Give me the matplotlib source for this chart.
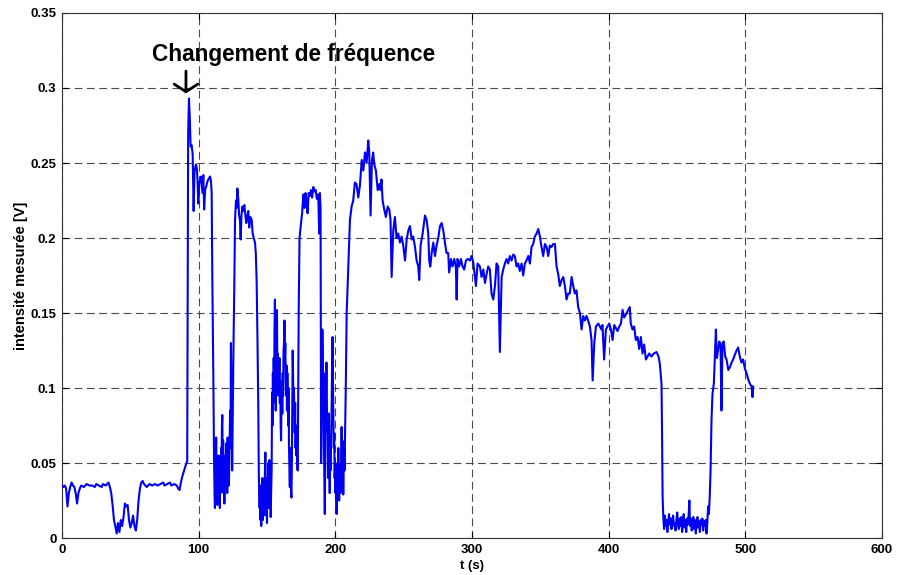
import matplotlib
matplotlib.use("Agg")
import matplotlib.pyplot as plt
from matplotlib.ticker import FixedLocator, FuncFormatter

plt.rcParams['font.family'] = ['Liberation Sans', 'DejaVu Sans']

# Measured intensity (V) against time (s), one list of (t, V) samples per phase
before_change = [
    (0, 0.035), (1, 0.034), (2, 0.035), (3, 0.033), (4, 0.021), (5, 0.030), (6, 0.034), (7, 0.037),
    (8, 0.035), (9, 0.034), (10, 0.030), (11, 0.023), (12, 0.030), (13, 0.033), (14, 0.035),
    (16, 0.034), (18, 0.036), (20, 0.035), (22, 0.035), (24, 0.034), (25, 0.036), (27, 0.035),
    (29, 0.034), (30, 0.036), (32, 0.035), (34, 0.037), (35, 0.034), (36, 0.030), (37, 0.022),
    (38, 0.012), (39, 0.008), (40, 0.003), (41, 0.010), (42, 0.004), (43, 0.012), (44, 0.008),
    (45, 0.014), (46, 0.023), (47, 0.021), (48, 0.022), (49, 0.012), (50, 0.007), (51, 0.010),
    (52, 0.015), (53, 0.008), (54, 0.005), (55, 0.012), (56, 0.025), (57, 0.033), (58, 0.037),
    (59, 0.038), (60, 0.036), (61, 0.035), (62, 0.034), (63, 0.035), (64, 0.036), (66, 0.035),
    (68, 0.036), (70, 0.035), (72, 0.036), (74, 0.037), (75, 0.035), (77, 0.036), (79, 0.037),
    (80, 0.035), (82, 0.036), (84, 0.035), (85, 0.033), (86, 0.032), (87, 0.037), (88, 0.041),
    (89, 0.044), (90, 0.047), (91, 0.050), (91.6, 0.051),
]

switching = [
    (92.3, 0.270), (92.9, 0.293), (93.5, 0.280), (94.1, 0.261), (94.8, 0.262), (95.6, 0.256),
    (96.3, 0.218), (97, 0.245), (98, 0.249), (98.6, 0.247), (99.2, 0.238), (99.7, 0.223),
    (100.4, 0.236), (101.1, 0.239), (101.7, 0.241), (102.3, 0.235), (102.8, 0.230), (103.4, 0.242),
    (104, 0.219), (104.7, 0.232), (105.4, 0.234), (106.2, 0.237), (107, 0.239), (107.7, 0.240),
    (108.3, 0.241), (109, 0.238), (109.5, 0.230), (110, 0.172), (110.7, 0.110),
    (111.2, 0.057), (111.6, 0.030), (111.9, 0.020), (112.2, 0.050), (112.5, 0.040), (112.8, 0.067),
    (113.1, 0.030), (113.4, 0.045), (113.7, 0.022), (114, 0.040), (114.3, 0.030), (114.6, 0.055),
    (114.9, 0.035), (115.2, 0.050), (115.5, 0.020), (115.8, 0.045), (116.1, 0.030), (116.4, 0.060),
    (116.7, 0.040), (117, 0.075), (117.3, 0.082), (117.6, 0.050), (117.9, 0.065), (118.2, 0.030),
    (118.5, 0.050), (118.8, 0.023), (119.1, 0.040), (119.4, 0.055), (119.7, 0.035), (120, 0.063),
    (120.3, 0.040), (120.6, 0.050), (120.9, 0.030), (121.2, 0.067), (121.5, 0.045), (121.8, 0.060),
    (122.1, 0.035), (122.4, 0.050), (122.7, 0.070), (123, 0.085), (123.3, 0.060), (123.6, 0.130),
    (123.9, 0.100), (124.2, 0.080), (124.5, 0.045), (124.8, 0.070), (125.1, 0.100), (125.5, 0.130),
    (126, 0.163), (126.6, 0.212), (127.3, 0.225), (127.8, 0.220), (128.3, 0.233), (129, 0.226),
    (129.6, 0.215), (130.2, 0.212), (130.7, 0.199), (131.3, 0.215), (132, 0.221), (132.7, 0.218),
    (133.4, 0.222), (134.2, 0.215), (134.8, 0.210), (135.5, 0.214), (136.3, 0.218), (137, 0.207),
    (137.8, 0.214), (138.8, 0.212), (139.5, 0.203), (140.3, 0.200), (141.2, 0.197), (141.8, 0.190),
    (142.4, 0.172), (143, 0.134), (143.6, 0.090), (144, 0.043),
    (144.3, 0.030), (144.6, 0.020), (144.9, 0.035), (145.2, 0.012), (145.5, 0.025), (145.8, 0.008),
    (146.1, 0.030), (146.4, 0.018), (146.7, 0.040), (147, 0.012), (147.3, 0.028), (147.6, 0.015),
    (147.9, 0.035), (148.2, 0.020), (148.5, 0.045), (148.8, 0.057), (149.1, 0.030), (149.4, 0.015),
    (149.7, 0.035), (150, 0.010), (150.3, 0.040), (150.6, 0.022), (150.9, 0.050), (151.2, 0.020),
    (151.5, 0.035), (151.8, 0.052), (152.1, 0.025), (152.4, 0.040), (152.7, 0.014), (153, 0.030),
    (153.4, 0.045),
    (153.7, 0.097), (154, 0.075), (154.3, 0.110), (154.6, 0.090), (154.9, 0.120), (155.2, 0.095),
    (155.5, 0.140), (155.8, 0.159), (156.1, 0.110), (156.4, 0.085), (156.7, 0.120), (157, 0.135),
    (157.3, 0.152), (157.6, 0.110), (157.9, 0.123), (158.2, 0.095), (158.5, 0.114), (158.8, 0.100),
    (159.1, 0.120), (159.4, 0.090), (159.7, 0.105), (160, 0.075), (160.3, 0.065), (160.6, 0.090),
    (160.9, 0.100), (161.2, 0.083), (161.5, 0.110), (161.8, 0.095), (162.1, 0.125), (162.5, 0.130),
    (162.8, 0.145), (163.1, 0.120), (163.4, 0.130), (163.7, 0.105), (164, 0.095), (164.3, 0.115),
    (164.6, 0.085), (164.9, 0.110), (165.2, 0.090), (165.5, 0.075), (165.8, 0.100), (166.1, 0.060),
    (166.4, 0.045), (166.7, 0.034), (167, 0.060), (167.3, 0.045), (167.6, 0.030), (167.9, 0.027),
    (168.2, 0.050), (168.5, 0.090), (168.8, 0.125), (169.1, 0.105), (169.4, 0.090), (169.7, 0.100),
    (170, 0.083), (170.3, 0.070), (170.6, 0.090), (170.9, 0.060), (171.2, 0.075), (171.5, 0.055),
    (171.8, 0.065), (172.1, 0.047), (172.5, 0.045),
    (173.2, 0.152), (173.8, 0.200), (174.9, 0.210), (175.7, 0.2165), (176.6, 0.229), (177.4, 0.220),
    (178.2, 0.230), (178.9, 0.225), (179.7, 0.2165), (180.5, 0.230), (181.3, 0.228), (182.2, 0.232),
    (183, 0.227), (183.9, 0.234), (184.7, 0.231), (185.6, 0.232), (186.5, 0.226), (187.5, 0.229),
    (188.2, 0.203), (188.7, 0.230), (189.2, 0.220),
    (189.6, 0.050), (189.9, 0.070), (190.2, 0.100), (190.5, 0.139), (190.8, 0.120), (191.1, 0.090),
    (191.4, 0.110), (191.7, 0.060), (192, 0.040), (192.3, 0.016), (192.6, 0.050), (192.9, 0.080),
    (193.2, 0.100), (193.5, 0.117), (193.8, 0.090), (194.1, 0.070), (194.4, 0.080), (194.7, 0.040),
    (195, 0.060), (195.3, 0.083), (195.6, 0.050), (195.9, 0.030), (196.2, 0.060), (196.5, 0.045),
    (196.8, 0.060), (197.1, 0.074), (197.4, 0.100), (197.7, 0.120), (198, 0.134), (198.3, 0.100),
    (198.6, 0.080), (198.9, 0.060), (199.2, 0.070), (199.5, 0.040), (199.8, 0.050), (200.1, 0.030),
    (200.4, 0.045), (200.7, 0.025), (201, 0.016), (201.3, 0.040), (201.6, 0.050), (201.9, 0.035),
    (202.2, 0.060), (202.5, 0.040), (202.8, 0.025), (203.1, 0.045), (203.4, 0.035), (203.7, 0.050),
    (204, 0.030), (204.3, 0.055), (204.6, 0.074), (204.9, 0.050), (205.2, 0.065), (205.5, 0.045),
    (205.8, 0.029), (206.1, 0.045), (206.4, 0.060), (206.7, 0.045), (207, 0.062), (207.3, 0.080),
    (207.6, 0.097), (207.9, 0.120), (208.3, 0.150),
]

decay = [
    (208.8, 0.163), (209.5, 0.181), (210.7, 0.212), (211.9, 0.221), (213.1, 0.225), (214.3, 0.237),
    (215.5, 0.236), (216.8, 0.227), (218, 0.235), (219.3, 0.252), (220.5, 0.245), (221.7, 0.257),
    (222.9, 0.250), (224.1, 0.265), (224.8, 0.258), (225.8, 0.215), (226.8, 0.252), (227.7, 0.257),
    (228.5, 0.249), (229.7, 0.245), (231, 0.232), (232.2, 0.236), (233.1, 0.232), (233.8, 0.239),
    (234.6, 0.225), (235.8, 0.219), (237, 0.214), (238.3, 0.221), (239.5, 0.219), (240.4, 0.212),
    (241.2, 0.174), (242.4, 0.205), (243.6, 0.214), (244.8, 0.200), (246, 0.203), (247.3, 0.197),
    (248.5, 0.201), (249.7, 0.195), (251, 0.185), (252.2, 0.199), (253.4, 0.205), (254.6, 0.208),
    (255.9, 0.199), (257, 0.201), (258.3, 0.194), (259.5, 0.185), (260.7, 0.181), (261.4, 0.172),
    (262.4, 0.195), (263.9, 0.203), (265.6, 0.215), (266.8, 0.212), (268, 0.203), (268.7, 0.185),
    (269.5, 0.181), (270.5, 0.190), (271.7, 0.197), (272.9, 0.188), (274.1, 0.195), (275.3, 0.200),
    (276.6, 0.208), (277.8, 0.210), (279, 0.205), (280.2, 0.197), (281.4, 0.190), (282.6, 0.190),
    (283.3, 0.177), (284.6, 0.186), (285.8, 0.181), (287, 0.186), (288.2, 0.181), (288.8, 0.159),
    (289.4, 0.186), (290.6, 0.181), (291.9, 0.186), (293.1, 0.181), (294.3, 0.179), (295.6, 0.185),
    (296.8, 0.186), (298.5, 0.185), (299.7, 0.188), (300.9, 0.184), (302.9, 0.168), (304.1, 0.183),
    (305.8, 0.181), (307, 0.174), (308.3, 0.179), (309.5, 0.170), (310.7, 0.176), (311.9, 0.181),
    (313.1, 0.179), (314.3, 0.163), (315.6, 0.159), (316.8, 0.168), (318, 0.183), (319.2, 0.181),
    (320.4, 0.124), (321.7, 0.174), (322.9, 0.179), (324.1, 0.183), (325.3, 0.186), (326.5, 0.183),
    (327.7, 0.188), (329, 0.185), (330.2, 0.189), (331.4, 0.188), (332.6, 0.181), (333.8, 0.183),
    (335, 0.178), (336.3, 0.183), (337.5, 0.175), (338.7, 0.183), (339.9, 0.185), (341.2, 0.188),
    (342.4, 0.183), (343.6, 0.194), (344.8, 0.196), (346, 0.201), (347.3, 0.203), (348.5, 0.206),
    (349.7, 0.201), (350.9, 0.194), (352.1, 0.188), (353.4, 0.196), (354.6, 0.194), (355.8, 0.188),
    (357, 0.195), (358.2, 0.194), (359.5, 0.196), (360.7, 0.196), (361.9, 0.181), (363.1, 0.176),
    (364.3, 0.168), (365.6, 0.172), (366.8, 0.174), (368, 0.168), (369.2, 0.159), (370.4, 0.163),
    (371.6, 0.163), (372.9, 0.174), (374.1, 0.168), (375.3, 0.163), (376.5, 0.165), (377.7, 0.154),
    (379, 0.150), (380.2, 0.139), (381.4, 0.148), (382.6, 0.145), (383.8, 0.148), (385, 0.145),
    (386.3, 0.141), (387.5, 0.132), (388.3, 0.105), (389.5, 0.130), (390.7, 0.141), (392.4, 0.143),
    (393.6, 0.141), (394.8, 0.139), (395.5, 0.142), (396.7, 0.119), (398, 0.139), (399.2, 0.141),
    (400.5, 0.143), (401.7, 0.139), (402.9, 0.132), (404.1, 0.142), (405.3, 0.140), (406.5, 0.138),
    (407.8, 0.141), (409, 0.143), (410.2, 0.152), (411.4, 0.147), (412.6, 0.149), (414.3, 0.152),
    (415.5, 0.154), (416.2, 0.143), (417.5, 0.139), (418.7, 0.141), (419.9, 0.132), (421.2, 0.134),
    (422.4, 0.126), (423.6, 0.134), (424.8, 0.123), (426, 0.129), (427.3, 0.119), (428.5, 0.121),
    (429.7, 0.123), (431.4, 0.121), (433.1, 0.123), (435.1, 0.124), (436.5, 0.121), (437.5, 0.116),
    (438.7, 0.103), (439.1, 0.070), (439.5, 0.028), (440, 0.014),
]

low_dip = [
    (440.6, 0.006), (441.2, 0.015), (441.8, 0.008), (442.4, 0.012), (443, 0.004), (443.6, 0.011),
    (444.2, 0.016), (444.8, 0.009), (445.4, 0.013), (446, 0.006), (446.6, 0.011), (447.2, 0.015),
    (447.8, 0.008), (448.4, 0.010), (449, 0.005), (449.6, 0.012), (450.2, 0.017), (450.8, 0.009),
    (451.4, 0.006), (452, 0.013), (452.6, 0.008), (453.2, 0.014), (453.8, 0.004), (454.4, 0.011),
    (455, 0.016), (455.6, 0.007), (456.2, 0.012), (456.8, 0.004), (457.4, 0.013), (458, 0.009),
    (458.6, 0.016), (459.1, 0.025), (459.6, 0.008), (460.2, 0.013), (460.8, 0.005), (461.4, 0.010),
    (462, 0.014), (462.6, 0.006), (463.2, 0.012), (463.8, 0.003), (464.4, 0.010), (465, 0.014),
    (465.6, 0.007), (466.2, 0.011), (466.8, 0.004), (467.4, 0.012), (468, 0.009), (468.6, 0.013),
    (469.2, 0.005), (469.8, 0.011), (470.4, 0.008), (471, 0.012), (471.6, 0.003), (472.2, 0.010),
    (472.8, 0.021), (473.4, 0.016), (474, 0.028),
]

recovery = [
    (474.6, 0.045), (475.3, 0.079), (476, 0.096), (477, 0.103), (477.7, 0.119), (478.5, 0.139),
    (479.2, 0.120), (480, 0.125), (481, 0.131), (481.9, 0.128), (482.6, 0.085), (483.3, 0.130),
    (484.3, 0.131), (485.3, 0.121), (486.3, 0.119), (487.6, 0.112), (488.8, 0.114), (490, 0.117),
    (491.1, 0.119), (492.3, 0.122), (493.6, 0.125), (494.8, 0.127), (496, 0.121), (497.2, 0.117),
    (498.4, 0.119), (499.7, 0.113), (500.9, 0.110), (502.1, 0.106), (503.3, 0.103), (504.6, 0.101),
    (505.3, 0.094), (505.8, 0.101),
]

x_ticks = [0, 100, 200, 300, 400, 500, 600]
y_ticks = [0, 0.05, 0.1, 0.15, 0.2, 0.25, 0.3, 0.35]
annotation_text = "Changement de fréquence"
annotation_time = 90.7

samples = before_change + switching + decay + low_dip + recovery
time_s = [t for t, _ in samples]
intensity_v = [v for _, v in samples]

fig = plt.figure(figsize=(8.99, 5.75), dpi=100)
ax = fig.add_axes([0.069, 0.0643, 0.912, 0.9131])

ax.plot(time_s, intensity_v, color=(0.0, 0.0, 0.95), lw=1.5, zorder=3)

ax.set_xlim(0, 600)
ax.set_ylim(0, 0.35)
ax.xaxis.set_major_locator(FixedLocator(x_ticks))
ax.yaxis.set_major_locator(FixedLocator(y_ticks))
ax.yaxis.set_major_formatter(FuncFormatter(lambda v, p: f"{v:g}"))
ax.xaxis.set_major_formatter(FuncFormatter(lambda v, p: f"{v:g}"))

ax.grid(True, color='#4a4a4a', linestyle=(0, (7, 4)), lw=0.8, zorder=1)
ax.set_axisbelow(True)
ax.tick_params(direction='in', length=4, width=0.8, top=True, right=True,
               labelsize=9.5, pad=4)
for lab in ax.get_xticklabels() + ax.get_yticklabels():
    lab.set_fontweight('bold')
for sp in ax.spines.values():
    sp.set_color('#333333')
    sp.set_linewidth(0.8)

ax.set_xlabel("t (s)", fontsize=9.5, fontweight='bold', labelpad=3)
ax.set_ylabel("intensité mesurée [V]", fontsize=10.5, fontweight='bold', labelpad=2)

ax.text(65.8, 0.3182, annotation_text, fontsize=16.3, fontweight='bold', va='baseline', zorder=4)
ax.annotate('', xy=(annotation_time, 0.2964), xytext=(annotation_time, 0.3113),
            arrowprops=dict(arrowstyle='->, head_length=0.55, head_width=0.85',
                            lw=2, color='black', shrinkA=0, shrinkB=0), zorder=4)

fig.savefig("out.png", dpi=100)
